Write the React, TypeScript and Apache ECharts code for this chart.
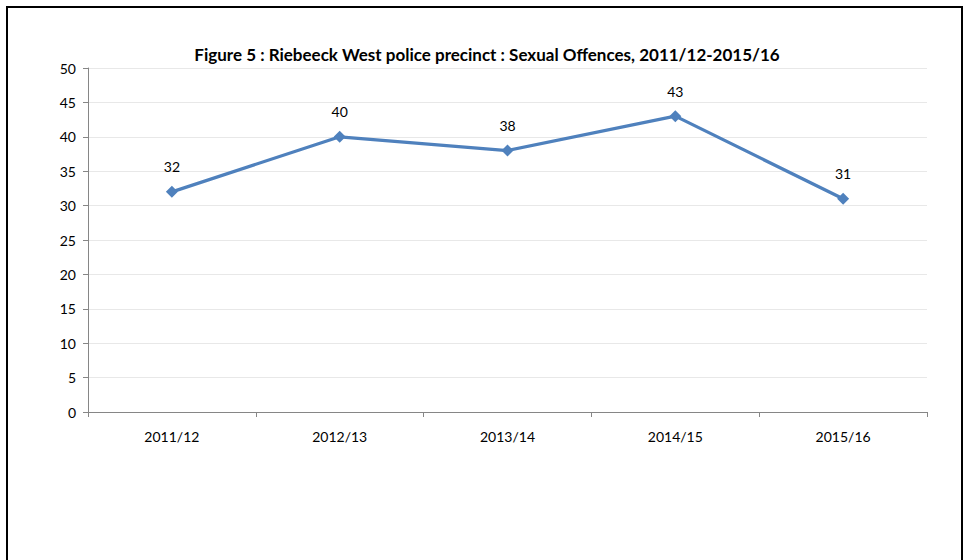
import React, { useEffect, useRef } from "react";
import * as echarts from "echarts";

const categories = ["2011/12", "2012/13", "2013/14", "2014/15", "2015/16"];
const values = [32, 40, 38, 43, 31];
const titleText = "Figure 5 : Riebeeck West police precinct : Sexual Offences, 2011/12-2015/16";

export default function App() {
  const ref = useRef<HTMLDivElement>(null);
  useEffect(() => {
    const chart = echarts.init(ref.current!, null, { renderer: "svg" });
    const font = "Lato, 'Open Sans', sans-serif";
    chart.setOption({
      animation: false,
      backgroundColor: "#ffffff",
      title: {
        text: titleText,
        left: 482,
        textAlign: "center",
        top: 41,
        textStyle: { fontFamily: font, fontSize: 17, fontWeight: "bold", color: "#000" },
      },
      grid: { left: 88, right: 49, top: 68, bottom: 148, containLabel: false },
      xAxis: {
        type: "category",
        data: categories,
        boundaryGap: true,
        axisLine: { lineStyle: { color: "#868686", width: 1 } },
        axisTick: { show: true, alignWithLabel: false, length: 5, lineStyle: { color: "#868686" } },
        axisLabel: { color: "#000", fontFamily: font, fontSize: 14, margin: 17 },
      },
      yAxis: {
        type: "value",
        min: 0,
        max: 50,
        interval: 5,
        axisLine: { show: true, lineStyle: { color: "#868686", width: 1 } },
        axisTick: { show: true, length: 5, lineStyle: { color: "#868686" } },
        axisLabel: { color: "#000", fontFamily: font, fontSize: 14, margin: 12 },
        splitLine: { lineStyle: { color: "#e8e8e8", width: 1 } },
      },
      series: [
        {
          type: "line",
          data: values,
          symbol: "diamond",
          symbolSize: 12,
          lineStyle: { color: "#4F81BD", width: 3.25 },
          itemStyle: { color: "#4F81BD" },
          label: {
            show: true,
            position: "top",
            distance: 12,
            color: "#000",
            fontFamily: font,
            fontSize: 14,
          },
        },
      ],
      graphic: [
        {
          type: "rect",
          shape: { x: 7, y: 7, width: 955, height: 600 },
          style: { fill: "none", stroke: "#000", lineWidth: 2 },
          silent: true,
        },
      ],
    });
    return () => chart.dispose();
  }, []);
  return (
    <div
      ref={ref}
      style={{ position: "fixed", left: 0, top: 0, width: 976, height: 560 }}
    />
  );
}
